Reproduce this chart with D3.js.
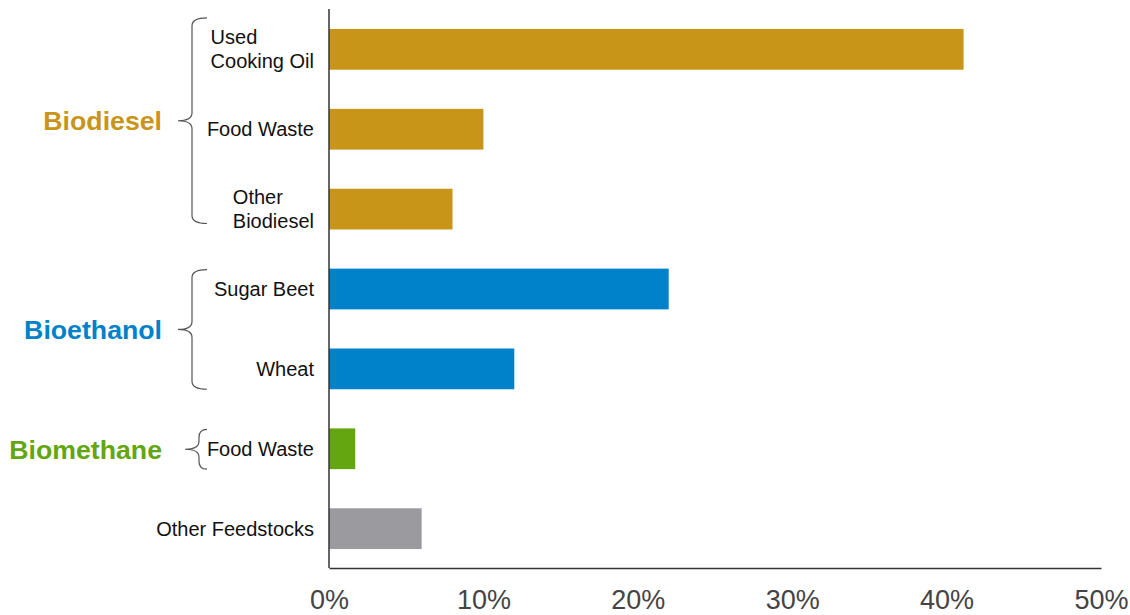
<!DOCTYPE html>
<html lang="en">
<head>
  <meta charset="UTF-8">
  <title>Feedstocks</title>
  <script src="https://cdn.jsdelivr.net/npm/d3@7/dist/d3.min.js"></script>
  <style>
  body{
    margin: 0;
    background: #fff;
  }
  .etiqueta{
    font-family: 'Liberation Sans', Arial, sans-serif;
    font-size: 20px;
    fill: #111;
  }
  .grupo{
    font-family: 'Liberation Sans', Arial, sans-serif;
    font-weight: 700;
    font-size: 26.7px;
  }
  .llave{
    fill: none;
    stroke: #555;
    stroke-width: 1.2;
  }
  .axis path{
    stroke: #333;
    stroke-width: 1.5;
  }
  .axis line{
    display: none;
  }
  .axis text{
    font-family: 'Liberation Sans', Arial, sans-serif;
    font-size: 27px;
    fill: #444;
  }
  </style>
</head>
<body>
  <div id="grafico"></div>

  <script>
    // datos
    var categorias = ["Used Cooking Oil", "Food Waste", "Other Biodiesel", "Sugar Beet", "Wheat", "Food Waste", "Other Feedstocks"];
    var lineas = [["Used", "Cooking Oil"], ["Food Waste"], ["Other", "Biodiesel"], ["Sugar Beet"], ["Wheat"], ["Food Waste"], ["Other Feedstocks"]];
    var porcentajes = [41.1, 10.0, 8.0, 22.0, 12.0, 1.7, 6.0];
    var tipo = ["Biodiesel", "Biodiesel", "Biodiesel", "Bioethanol", "Bioethanol", "Biomethane", "Other"];
    var grupos = ["Biodiesel", "Bioethanol", "Biomethane"];
    var ticks = [0, 10, 20, 30, 40, 50];

    var colores = {Biodiesel: "#C99518", Bioethanol: "#0082CA", Biomethane: "#63A60F", Other: "#9B9B9F"};

    var w = 1130;
    var h = 615;
    var x0 = 329;
    var x1 = 1101;
    var ejeY = 568;
    var finEtiqueta = 314;

    var grafico = d3.select("#grafico")
      .append("svg")
      .attr("width", w)
      .attr("height", h);

    //Escalas
    var xScale = d3.scaleLinear()
      .domain([0, 50])
      .range([x0, x1]);

    var yScale = d3.scaleBand()
      .domain(d3.range(categorias.length))
      .range([9, 569])
      .paddingInner(0.49)
      .paddingOuter(0.25);

    var bw = yScale.bandwidth();

    //Barras
    grafico.selectAll(".barra")
      .data(porcentajes)
      .enter()
      .append("rect")
      .attr("class", "barra")
      .attr("x", xScale(0))
      .attr("y", function(d, i){ return yScale(i); })
      .attr("width", function(d){ return xScale(d) - xScale(0); })
      .attr("height", bw)
      .attr("fill", function(d, i){ return colores[tipo[i]]; });

    //Etiquetas de categorias (bloque alineado a la derecha, lineas a la izquierda)
    lineas.forEach(function(ls, i){
      var cy = yScale(i) + bw / 2;
      var g = grafico.append("g");
      var textos = g.selectAll("text")
        .data(ls)
        .enter()
        .append("text")
        .attr("class", "etiqueta")
        .attr("dy", "0.35em")
        .attr("y", function(d, j){ return cy + (j - (ls.length - 1) / 2) * 24; })
        .text(function(d){ return d; });
      var maxW = d3.max(textos.nodes(), function(n){ return n.getComputedTextLength(); });
      textos.attr("x", finEtiqueta - maxW);
    });

    //Llaves y nombres de grupo
    grupos.forEach(function(gr){
      var idx = d3.range(tipo.length).filter(function(i){ return tipo[i] === gr; });
      var top = yScale(idx[0]) + 1;
      var bot = yScale(idx[idx.length - 1]) + bw;
      if (idx.length > 2) { top -= 12; bot -= 6; }
      var mid = (top + bot) / 2;
      var xv = idx.length > 1 ? 192 : 199;
      var xEnd = 207;
      var xPunta = xv - 14;
      var r = Math.min(8, (bot - top) / 4);
      var p = d3.path();
      p.moveTo(xEnd, top);
      p.quadraticCurveTo(xv, top, xv, top + r);
      p.lineTo(xv, mid - r);
      p.quadraticCurveTo(xv, mid, xPunta, mid);
      p.quadraticCurveTo(xv, mid, xv, mid + r);
      p.lineTo(xv, bot - r);
      p.quadraticCurveTo(xv, bot, xEnd, bot);
      grafico.append("path")
        .attr("class", "llave")
        .attr("d", p.toString());

      grafico.append("text")
        .attr("class", "grupo")
        .attr("x", 162)
        .attr("y", mid)
        .attr("dy", "0.35em")
        .attr("text-anchor", "end")
        .attr("fill", colores[gr])
        .text(gr);
    });

    //Ejes
    var xAxis = d3.axisBottom(xScale)
      .tickValues(ticks)
      .tickSize(0)
      .tickSizeOuter(0)
      .tickPadding(22)
      .tickFormat(function(d){ return d + "%"; });

    grafico.append("g")
      .attr("class", "axis")
      .attr("transform", "translate(0," + ejeY + ")")
      .call(xAxis);

    grafico.append("g")
      .attr("class", "axis")
      .append("path")
      .attr("d", "M" + x0 + ",9V" + ejeY);
  </script>
</body>
</html>
